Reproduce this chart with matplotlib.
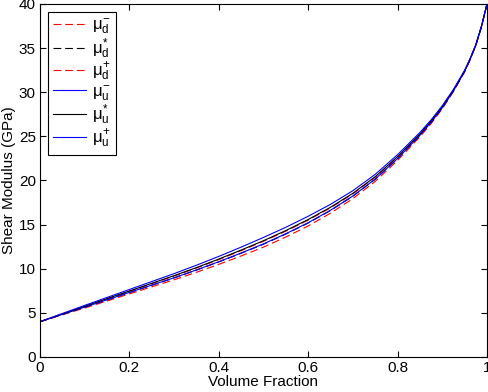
import matplotlib
matplotlib.use("Agg")
import matplotlib.pyplot as plt

vf = [0.0, 0.05, 0.10, 0.15, 0.20, 0.25, 0.30, 0.35, 0.40, 0.45, 0.50, 0.55,
      0.60, 0.65, 0.70, 0.75, 0.80, 0.85, 0.875, 0.90, 0.925, 0.95, 0.9625,
      0.975, 0.9875, 1.0]

mu_d_minus = [4.00, 4.78, 5.55, 6.35, 7.15, 7.95, 8.75, 9.60, 10.50, 11.45, 12.45, 13.60,
              14.85, 16.30, 17.95, 19.90, 22.28, 24.95, 26.45, 28.13, 30.08, 32.30, 33.70,
              35.30, 37.40, 40.00]
mu_d_star = [4.00, 4.82, 5.64, 6.47, 7.30, 8.13, 8.96, 9.84, 10.77, 11.75, 12.78, 13.93,
             15.18, 16.60, 18.22, 20.14, 22.47, 25.10, 26.58, 28.23, 30.15, 32.36, 33.75,
             35.33, 37.42, 40.00]
mu_d_plus = [4.00, 4.87, 5.73, 6.59, 7.45, 8.31, 9.17, 10.08, 11.04, 12.05, 13.11, 14.26,
             15.51, 16.90, 18.49, 20.38, 22.67, 25.25, 26.70, 28.34, 30.23, 32.42, 33.80,
             35.36, 37.44, 40.00]
mu_u_minus = [4.00, 4.83, 5.65, 6.48, 7.32, 8.15, 8.98, 9.87, 10.80, 11.78, 12.82, 13.97,
              15.22, 16.63, 18.25, 20.17, 22.49, 25.12, 26.60, 28.24, 30.16, 32.37, 33.76,
              35.33, 37.42, 40.00]
mu_u_star = [4.00, 4.88, 5.75, 6.62, 7.48, 8.35, 9.22, 10.13, 11.10, 12.12, 13.18, 14.33,
             15.58, 16.97, 18.55, 20.43, 22.71, 25.28, 26.73, 28.36, 30.24, 32.43, 33.81,
             35.37, 37.44, 40.00]
mu_u_plus = [4.00, 4.93, 5.85, 6.75, 7.65, 8.55, 9.45, 10.40, 11.40, 12.45, 13.55, 14.70,
             15.95, 17.30, 18.85, 20.70, 22.93, 25.45, 26.88, 28.48, 30.33, 32.50, 33.86,
             35.40, 37.46, 40.00]

labels = [r"$\mu_{\rm d}^{-}$", r"$\mu_{\rm d}^{*}$", r"$\mu_{\rm d}^{+}$",
          r"$\mu_{\rm u}^{-}$", r"$\mu_{\rm u}^{*}$", r"$\mu_{\rm u}^{+}$"]
xticks = [0, 0.2, 0.4, 0.6, 0.8, 1]
xticklabels = ["0", "0.2", "0.4", "0.6", "0.8", "1"]
yticks = [0, 5, 10, 15, 20, 25, 30, 35, 40]

plt.rcParams['font.family'] = ['Liberation Sans', 'DejaVu Sans']
plt.rcParams['mathtext.fontset'] = 'custom'
plt.rcParams['mathtext.rm'] = 'Liberation Sans'
plt.rcParams['mathtext.it'] = 'Liberation Sans'

fig = plt.figure(figsize=(4.88, 3.92), dpi=100)
ax = fig.add_axes([40/488, 35/392, 447/488, 353/392])

dash = (0, (7, 3.5))
lw = 0.8
ax.plot(vf, mu_d_minus, color='red', linestyle=dash, lw=lw, label=labels[0])
ax.plot(vf, mu_d_star, color='black', linestyle=dash, lw=lw, label=labels[1])
ax.plot(vf, mu_d_plus, color='red', linestyle=dash, lw=lw, label=labels[2])
ax.plot(vf, mu_u_minus, color='blue', linestyle='-', lw=lw, label=labels[3])
ax.plot(vf, mu_u_star, color='black', linestyle='-', lw=lw, label=labels[4])
ax.plot(vf, mu_u_plus, color='blue', linestyle='-', lw=lw, label=labels[5])

ax.set_xlim(0, 1)
ax.set_ylim(0, 40)
ax.set_xticks(xticks)
ax.set_xticklabels(xticklabels)
ax.set_yticks(yticks)
ax.tick_params(direction='in', top=True, right=True, length=4, width=0.8,
               labelsize=11, pad=3)
for sp in ax.spines.values():
    sp.set_linewidth(0.8)

ax.set_xlabel("Volume Fraction", fontsize=11, labelpad=0)
ax.set_ylabel("Shear Modulus (GPa)", fontsize=11, labelpad=2)

leg = ax.legend(loc='upper left', fontsize=12, frameon=True, fancybox=False,
                edgecolor='black', framealpha=1, handlelength=2.0,
                borderpad=0.3, labelspacing=0.0, handletextpad=0.4,
                borderaxespad=0.45)
leg.get_frame().set_linewidth(0.8)

fig.savefig("out.png", dpi=100)
